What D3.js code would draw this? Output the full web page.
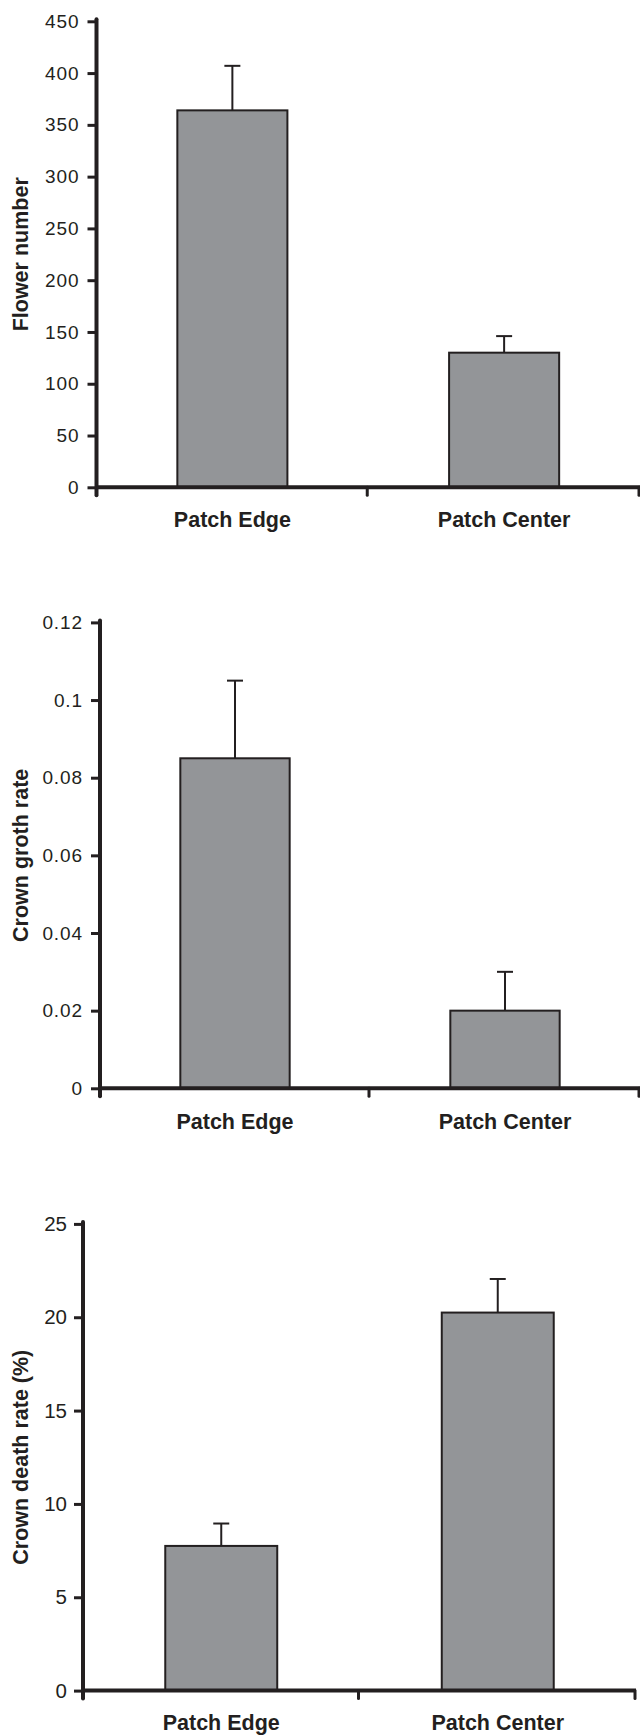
<!DOCTYPE html>
<html lang="en">
<head>
    <meta charset="UTF-8">
    <title>Patch edge vs patch center</title>
    <script src="https://d3js.org/d3.v7.min.js"></script>
    <style>
        body {
            margin: 0;
            padding: 0;
            background: #ffffff;
        }

        svg text {
            font-family: "Liberation Sans", Arial, sans-serif;
            fill: #231f20;
        }

        .cat-label, .y-title {
            font-size: 21.5px;
            font-weight: bold;
        }
    </style>
</head>
<body>

    <svg id="chart" width="640" height="1735"></svg>

    <script>
        // Categories shared by the three panels
        const categories = ["Patch Edge", "Patch Center"];

        // Panel 1: flower number (mean and standard error)
        const flowerNumber = [364, 130];
        const flowerNumberSE = [43, 16];
        const flowerTicks = [0, 50, 100, 150, 200, 250, 300, 350, 400, 450];

        // Panel 2: crown growth rate
        const crownGrowth = [0.085, 0.02];
        const crownGrowthSE = [0.02, 0.01];
        const growthTicks = [0, 0.02, 0.04, 0.06, 0.08, 0.1, 0.12];

        // Panel 3: crown death rate (%)
        const crownDeath = [7.75, 20.25];
        const crownDeathSE = [1.2, 1.8];
        const deathTicks = [0, 5, 10, 15, 20, 25];

        // Layout of each panel on the page
        const panels = [
            { title: "Flower number", values: flowerNumber, se: flowerNumberSE, ticks: flowerTicks,
              left: 96.5, right: 640, top: 21.3, zero: 487.3, labelY: 527,
              tickFont: 19, tickSpacing: 0.9, tickPad: 8 },
            { title: "Crown groth rate", values: crownGrowth, se: crownGrowthSE, ticks: growthTicks,
              left: 100, right: 640, top: 622.4, zero: 1088.3, labelY: 1128.5,
              tickFont: 19, tickSpacing: 0.9, tickPad: 8 },
            { title: "Crown death rate (%)", values: crownDeath, se: crownDeathSE, ticks: deathTicks,
              left: 83, right: 636, top: 1223.9, zero: 1690.6, labelY: 1730,
              tickFont: 20.5, tickSpacing: 0, tickPad: 7 }
        ];

        const ink = "#231f20";
        const barFill = "#939598";
        const barFrac = 0.405;

        const svg = d3.select("#chart");

        panels.forEach(p => {
            const g = svg.append("g");

            const x = d3.scaleBand()
                        .domain(categories)
                        .range([p.left, p.right]);

            const y = d3.scaleLinear()
                        .domain([0, d3.max(p.ticks)])
                        .range([p.zero, p.top]);

            const rows = categories.map((c, i) => ({ cat: c, v: p.values[i], se: p.se[i] }));
            const bw = x.bandwidth() * barFrac;
            const cx = d => x(d.cat) + x.bandwidth() / 2;

            // Error bars (upper half only)
            g.selectAll(".err")
             .data(rows)
             .enter()
             .append("line")
             .attr("x1", cx).attr("x2", cx)
             .attr("y1", d => y(d.v)).attr("y2", d => y(d.v + d.se))
             .attr("stroke", ink)
             .attr("stroke-width", 2);

            g.selectAll(".cap")
             .data(rows)
             .enter()
             .append("line")
             .attr("x1", d => cx(d) - 8).attr("x2", d => cx(d) + 8)
             .attr("y1", d => y(d.v + d.se)).attr("y2", d => y(d.v + d.se))
             .attr("stroke", ink)
             .attr("stroke-width", 2);

            // Bars
            g.selectAll(".bar")
             .data(rows)
             .enter()
             .append("rect")
             .attr("x", d => cx(d) - bw / 2)
             .attr("y", d => y(d.v))
             .attr("width", bw)
             .attr("height", d => y(0) - y(d.v))
             .attr("fill", barFill)
             .attr("stroke", ink)
             .attr("stroke-width", 2);

            // Y axis
            const yAxis = g.append("g")
                           .attr("transform", `translate(${p.left},0)`)
                           .call(d3.axisLeft(y)
                                   .tickValues(p.ticks)
                                   .tickFormat(d => String(d))
                                   .tickSize(9)
                                   .tickPadding(p.tickPad));
            yAxis.attr("font-size", null).attr("font-family", null);
            yAxis.select(".domain").remove();
            yAxis.selectAll(".tick line")
                 .attr("stroke", ink)
                 .attr("stroke-width", 3);
            yAxis.selectAll(".tick text")
                 .attr("fill", ink)
                 .style("font-size", p.tickFont + "px")
                 .style("letter-spacing", p.tickSpacing + "px");

            g.append("line")
             .attr("x1", p.left).attr("x2", p.left)
             .attr("y1", p.top - 2).attr("y2", y(0) + 8)
             .attr("stroke", ink)
             .attr("stroke-width", 4)
             .attr("stroke-linecap", "round");

            // X axis
            g.append("line")
             .attr("x1", p.left).attr("x2", p.right)
             .attr("y1", y(0)).attr("y2", y(0))
             .attr("stroke", ink)
             .attr("stroke-width", 4);

            const bounds = categories.map(c => x(c)).concat([x.range()[1]]).slice(1);
            g.selectAll(".xtick")
             .data(bounds)
             .enter()
             .append("line")
             .attr("x1", d => d - 1).attr("x2", d => d - 1)
             .attr("y1", y(0)).attr("y2", y(0) + 8)
             .attr("stroke", ink)
             .attr("stroke-width", 3)
             .attr("stroke-linecap", "round");

            g.selectAll(".cat")
             .data(categories)
             .enter()
             .append("text")
             .attr("class", "cat-label")
             .attr("x", d => x(d) + x.bandwidth() / 2)
             .attr("y", p.labelY)
             .attr("text-anchor", "middle")
             .text(d => d);

            // Y axis title
            g.append("text")
             .attr("class", "y-title")
             .attr("transform", `translate(28,${(p.top + p.zero) / 2}) rotate(-90)`)
             .attr("text-anchor", "middle")
             .text(p.title);
        });
    </script>

</body>
</html>
